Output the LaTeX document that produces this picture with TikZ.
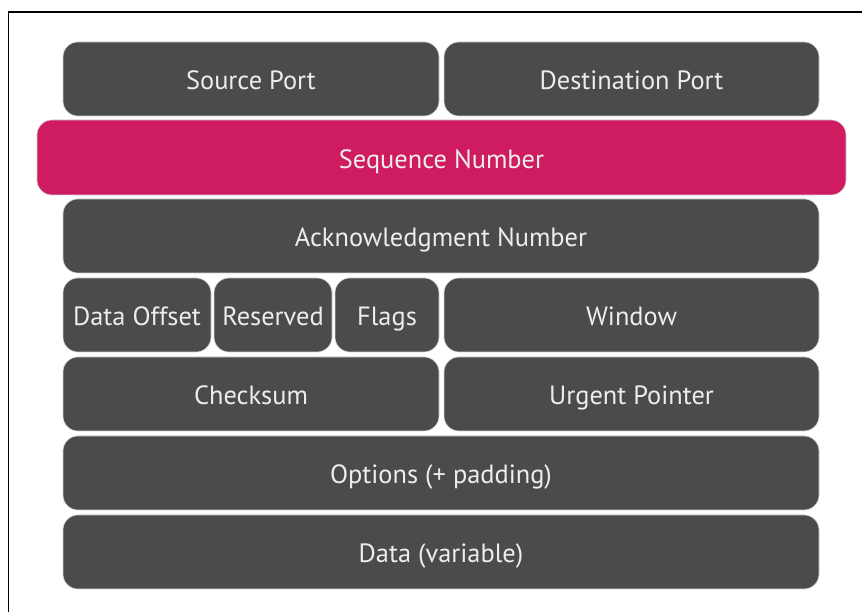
\documentclass[tikz,border=0pt]{standalone}
\usepackage{fontspec}
\setmainfont{PT Sans}
\definecolor{boxgray}{HTML}{4B4B4B}
\definecolor{seqpink}{HTML}{CF1B60}
\definecolor{txt}{HTML}{EDEDED}
\begin{document}
\begin{tikzpicture}[x=1pt,y=1pt,
  fld/.style={rectangle, rounded corners=15pt, fill=boxgray, draw=gray!35, line width=0.6pt,
    inner sep=0pt, text=txt, font=\fontsize{26.4}{30}\selectfont, minimum height=74pt,
    text height=22pt, text depth=0pt},
  hot/.style={fld, fill=seqpink}]
\useasboundingbox (0,0) rectangle (862,612);
\fill[white] (0,0) rectangle (862,612);
\draw[line width=1.5pt] (8.5,0) -- (8.5,600) -- (862,600);
\node[fld, minimum width=376pt] (sp) at (251,533) {Source Port};
\node[fld, minimum width=375pt] (dp) at (631.5,533) {Destination Port};
\node[hot, minimum width=809pt, minimum height=75pt] (seq) at (441.5,454.5) {Sequence Number};
\node[fld, minimum width=756pt] (ack) at (441,376) {Acknowledgment Number};
\node[fld, minimum width=148pt] (do) at (137,297) {Data Offset};
\node[fld, minimum width=118pt] (res) at (273,297) {Reserved};
\node[fld, minimum width=104pt] (flags) at (387,297) {Flags};
\node[fld, minimum width=375pt] (win) at (631.5,297) {Window};
\node[fld, minimum width=376pt] (chk) at (251,218) {Checksum};
\node[fld, minimum width=375pt] (urg) at (631.5,218) {Urgent Pointer};
\node[fld, minimum width=756pt] (opt) at (441,139) {Options (+ padding)};
\node[fld, minimum width=756pt] (data) at (441,60) {Data (variable)};
\end{tikzpicture}
\end{document}
